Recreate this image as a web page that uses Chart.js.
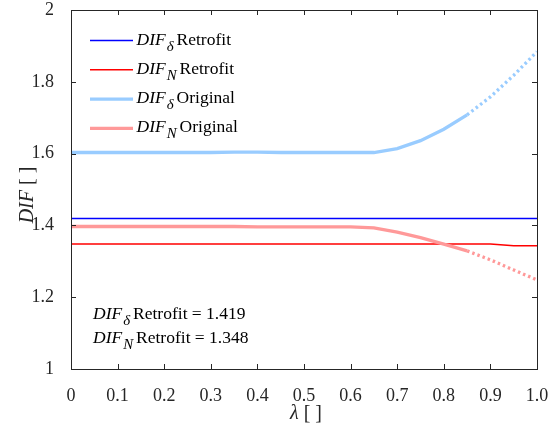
<!DOCTYPE html>
<html>
<head>
<meta charset="utf-8">
<script src="https://cdn.jsdelivr.net/npm/chart.js@4.4.1/dist/chart.umd.min.js"></script>
<style>
  html, body { margin: 0; padding: 0; background: #fff; }
</style>
</head>
<body>
<canvas id="difChart" width="551" height="427"></canvas>
<script>
// values
const lambda = [0, 0.05, 0.1, 0.15, 0.2, 0.25, 0.3, 0.35, 0.4, 0.45, 0.5,
  0.55, 0.6, 0.65, 0.7, 0.75, 0.8, 0.85, 0.9, 0.95, 1.0];
const difDeltaRetrofit = [1.419, 1.419, 1.419, 1.419, 1.419, 1.419, 1.419, 1.419, 1.419, 1.419, 1.419,
  1.419, 1.419, 1.419, 1.419, 1.419, 1.419, 1.419, 1.419, 1.4195, 1.4195];
const difNRetrofit = [1.348, 1.348, 1.348, 1.348, 1.348, 1.348, 1.348, 1.348, 1.348, 1.348, 1.348,
  1.348, 1.348, 1.348, 1.348, 1.348, 1.348, 1.348, 1.348, 1.3435, 1.3435];
const difDeltaOriginal = [1.603, 1.603, 1.603, 1.603, 1.603, 1.603, 1.603, 1.604, 1.604, 1.603, 1.603,
  1.603, 1.603, 1.603, 1.614, 1.636, 1.668, 1.708, 1.758, 1.818, 1.884];
const difNOriginal = [1.397, 1.397, 1.397, 1.397, 1.397, 1.397, 1.397, 1.397, 1.396, 1.396, 1.396,
  1.396, 1.396, 1.393, 1.381, 1.366, 1.348, 1.329, 1.304, 1.276, 1.248];
const dottedFrom = 0.85;

const xTickValues = [0, 0.1, 0.2, 0.3, 0.4, 0.5, 0.6, 0.7, 0.8, 0.9, 1.0];
const yTickValues = [1, 1.2, 1.4, 1.6, 1.8, 2];
const legendSubs = ['\u03b4', 'N', '\u03b4', 'N'];
const legendRest = ['Retrofit', 'Retrofit', 'Original', 'Original'];

const serif = '"Liberation Serif", "Times New Roman", serif';
const axisColor = '#262626';

function toPoints(ys) {
  return lambda.map((x, i) => ({ x: x, y: ys[i] }));
}

// DIF with subscript, then the rest of the text
function drawDif(ctx, x, y, sub, rest, size) {
  ctx.textAlign = 'left';
  ctx.textBaseline = 'alphabetic';
  ctx.font = `italic ${size}px ${serif}`;
  ctx.fillText('DIF', x, y);
  x += ctx.measureText('DIF').width + 1;
  ctx.font = `italic ${size * 0.85}px ${serif}`;
  ctx.fillText(sub, x, y + 6);
  x += ctx.measureText(sub).width + 3;
  ctx.font = `${size}px ${serif}`;
  ctx.fillText(rest, x, y);
}

const dottedTail = ctx => ctx.p0.parsed.x >= dottedFrom - 1e-9 ? [2.5, 3] : undefined;

const framePlugin = {
  id: 'frame',
  afterDraw(chart) {
    const ctx = chart.ctx;
    const a = chart.chartArea;
    const xs = chart.scales.x;
    const ys = chart.scales.y;
    ctx.save();
    ctx.strokeStyle = axisColor;
    ctx.lineWidth = 1;
    ctx.strokeRect(a.left + 0.5, a.top + 0.5, a.right - a.left, a.bottom - a.top);
    ctx.beginPath();
    xTickValues.forEach(v => {
      const px = Math.round(xs.getPixelForValue(v)) + 0.5;
      ctx.moveTo(px, a.bottom); ctx.lineTo(px, a.bottom - 5);
      ctx.moveTo(px, a.top); ctx.lineTo(px, a.top + 5);
    });
    yTickValues.forEach(v => {
      const py = Math.round(ys.getPixelForValue(v)) + 0.5;
      ctx.moveTo(a.left, py); ctx.lineTo(a.left + 5, py);
      ctx.moveTo(a.right, py); ctx.lineTo(a.right - 5, py);
    });
    ctx.stroke();

    // legend
    chart.data.datasets.forEach((ds, i) => {
      const y = 40.5 + i * 29.3;
      ctx.strokeStyle = ds.borderColor;
      ctx.lineWidth = ds.borderWidth;
      ctx.beginPath();
      ctx.moveTo(90, y); ctx.lineTo(133, y);
      ctx.stroke();
      ctx.fillStyle = '#000';
      drawDif(ctx, 136.5, y + 4, legendSubs[i], legendRest[i], 17.5);
    });

    // retrofit values
    ctx.fillStyle = '#000';
    drawDif(ctx, 93, 319, '\u03b4', 'Retrofit = ' + difDeltaRetrofit[0].toFixed(3), 17.5);
    drawDif(ctx, 93, 343, 'N', 'Retrofit = ' + difNRetrofit[0].toFixed(3), 17.5);

    // axis titles
    ctx.fillStyle = axisColor;
    ctx.textBaseline = 'alphabetic';
    ctx.textAlign = 'left';
    ctx.font = `italic 20px ${serif}`;
    const lw = ctx.measureText('\u03bb').width;
    ctx.font = `20px ${serif}`;
    const bw = ctx.measureText(' [ ]').width;
    let x0 = (a.left + a.right) / 2 + 2 - (lw + bw) / 2;
    ctx.font = `italic 20px ${serif}`;
    ctx.fillText('\u03bb', x0, 419);
    ctx.font = `20px ${serif}`;
    ctx.fillText(' [ ]', x0 + lw, 419);

    ctx.translate(33, 195);
    ctx.rotate(-Math.PI / 2);
    ctx.font = `italic 20px ${serif}`;
    const dw = ctx.measureText('DIF').width;
    ctx.font = `20px ${serif}`;
    const bw2 = ctx.measureText(' [ ]').width;
    x0 = -(dw + bw2) / 2;
    ctx.font = `italic 20px ${serif}`;
    ctx.fillText('DIF', x0, 0);
    ctx.font = `20px ${serif}`;
    ctx.fillText(' [ ]', x0 + dw, 0);
    ctx.restore();
  }
};

new Chart(document.getElementById('difChart'), {
  type: 'line',
  data: {
    datasets: [{
      label: 'DIF delta Retrofit',
      data: toPoints(difDeltaRetrofit),
      borderColor: '#0000ff',
      borderWidth: 1.5,
      order: 3
    }, {
      label: 'DIF N Retrofit',
      data: toPoints(difNRetrofit),
      borderColor: '#ff0000',
      borderWidth: 1.5,
      order: 2
    }, {
      label: 'DIF delta Original',
      data: toPoints(difDeltaOriginal),
      borderColor: '#99ccff',
      borderWidth: 3.3,
      segment: { borderDash: dottedTail },
      order: 1
    }, {
      label: 'DIF N Original',
      data: toPoints(difNOriginal),
      borderColor: '#ff9999',
      borderWidth: 3.3,
      segment: { borderDash: dottedTail },
      order: 0
    }]
  },
  options: {
    responsive: false,
    animation: false,
    // chart area lands at 71..537 x 10..369
    layout: { autoPadding: false, padding: { left: 0, top: 10, right: 14, bottom: 0 } },
    elements: { point: { radius: 0 }, line: { tension: 0 } },
    plugins: { legend: { display: false }, tooltip: { enabled: false } },
    scales: {
      x: {
        type: 'linear',
        min: 0, max: 1,
        afterFit(scale) {
          scale.height = 58;
          scale.paddingLeft = 0;
          scale.paddingRight = 0;
        },
        afterBuildTicks(scale) { scale.ticks = xTickValues.map(v => ({ value: v })); },
        grid: { display: false },
        border: { display: false },
        ticks: {
          autoSkip: false, maxRotation: 0, padding: 8,
          color: axisColor,
          font: { family: serif, size: 18 },
          callback: v => v === 0 ? '0' : v.toFixed(1)
        }
      },
      y: {
        type: 'linear',
        min: 1, max: 2,
        afterFit(scale) {
          scale.width = 71;
          scale.paddingTop = 0;
          scale.paddingBottom = 0;
        },
        afterBuildTicks(scale) { scale.ticks = yTickValues.map(v => ({ value: v })); },
        grid: { display: false },
        border: { display: false },
        ticks: {
          autoSkip: false, padding: 9,
          color: axisColor,
          font: { family: serif, size: 18 },
          callback: v => String(Math.round(v * 10) / 10)
        }
      }
    }
  },
  plugins: [framePlugin]
});
</script>
</body>
</html>
